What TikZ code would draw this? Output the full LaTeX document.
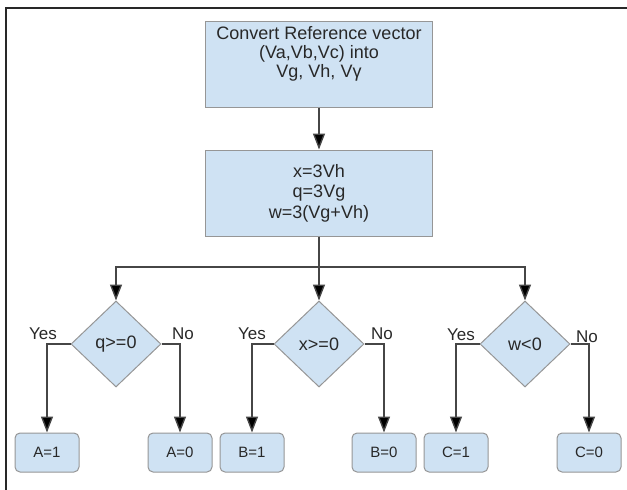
\documentclass[tikz,border=0pt]{standalone}
\usepackage{fontspec}
\setmainfont{Liberation Sans}
\usetikzlibrary{shapes.geometric,arrows.meta}
\definecolor{boxfill}{RGB}{207,226,243}
\definecolor{boxline}{RGB}{150,150,150}
\definecolor{txt}{RGB}{40,40,40}
\definecolor{wire}{RGB}{70,70,70}
\definecolor{framec}{RGB}{40,40,40}
\begin{document}
\begin{tikzpicture}[x=1pt,y=-1pt,
  procbox/.style={draw=boxline,line width=1pt,fill=boxfill,minimum width=227pt,minimum height=86pt,inner sep=0pt},
  proctext/.style={text=txt,align=center,inner sep=0pt,font=\fontsize{18}{19}\selectfont},
  decbox/.style={diamond,draw=boxline,line width=1pt,fill=boxfill,minimum width=90pt,minimum height=86pt,inner sep=0pt,text=txt,font=\fontsize{18}{20}\selectfont},
  leafbox/.style={draw=boxline,line width=1pt,fill=boxfill,rounded corners=5pt,minimum width=64pt,minimum height=39pt,inner sep=0pt,text=txt,font=\fontsize{15}{17}\selectfont},
  lbl/.style={text=txt,inner sep=0pt,anchor=base,font=\fontsize{17}{19}\selectfont},
  wireline/.style={draw=wire,line width=1.4pt},
  arr/.style={wireline,-{Triangle[width=12pt,length=16pt,fill=black]}},
]
\useasboundingbox (0,0) rectangle (627,490);
\draw[framec,line width=2pt] (6,490) -- (6,8) -- (627,8);

\node[procbox] (b1) at (319,64) {};
\node[proctext] (b1t) at (319,53.5) {Convert Reference vector\\(Va,Vb,Vc) into\\Vg, Vh, Vγ};
\node[procbox] (b2) at (319,193) {};
\node[proctext,font=\fontsize{18}{20.5}\selectfont] (b2t) at (319,193) {x=3Vh\\q=3Vg\\w=3(Vg+Vh)};

\node[decbox] (d1) at (116,344) {q>=0};
\node[decbox] (d2) at (319,344) {x>=0};
\node[decbox] (d3) at (525,344) {w<0};

\node[leafbox] (a1) at (47,452.5) {A=1};
\node[leafbox] (a0) at (180,452.5) {A=0};
\node[leafbox] (c1b) at (252,452.5) {B=1};
\node[leafbox] (b0) at (384,452.5) {B=0};
\node[leafbox] (c1) at (456,452.5) {C=1};
\node[leafbox] (c0) at (589,452.5) {C=0};

\coordinate (split) at (319,267);
\draw[arr] (b1.south) -- (b2.north);
\draw[wireline] (b2.south) -- (split);
\draw[arr] (split) -| (d1.north);
\draw[arr] (split) -- (d2.north);
\draw[arr] (split) -| (d3.north);

\draw[arr] (d1.west) -| (a1.north);
\draw[arr] (d1.east) -| (a0.north);
\draw[arr] (d2.west) -| (c1b.north);
\draw[arr] (d2.east) -| (b0.north);
\draw[arr] (d3.west) -| (c1.north);
\draw[arr] (d3.east) -| (c0.north);

\node[lbl] (y1) at (43,339) {Yes};
\node[lbl] (n1) at (183,339) {No};
\node[lbl] (y2) at (252,339) {Yes};
\node[lbl] (n2) at (382,339) {No};
\node[lbl] (y3) at (461,340) {Yes};
\node[lbl] (n3) at (587,342) {No};
\end{tikzpicture}
\end{document}
